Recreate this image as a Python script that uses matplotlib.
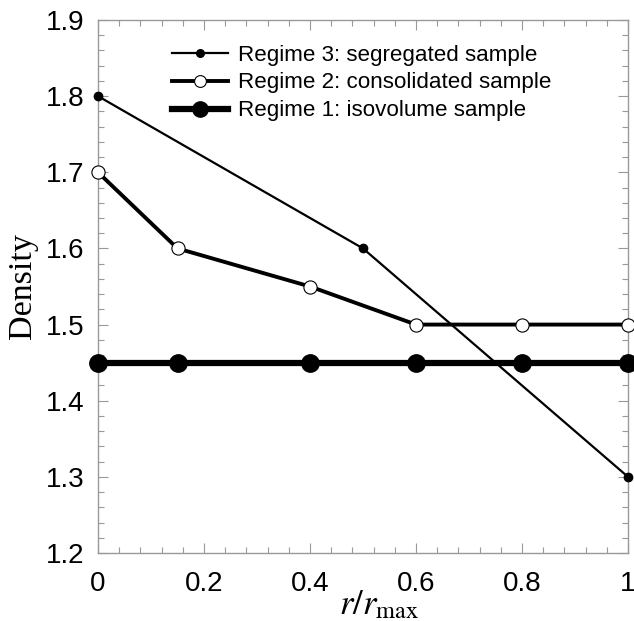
import matplotlib
matplotlib.use("Agg")
import matplotlib.pyplot as plt
from matplotlib.ticker import MultipleLocator

# Density profiles along the normalised radius
r3 = [0.0, 0.5, 1.0]
rho3 = [1.80, 1.60, 1.30]

r2 = [0.0, 0.15, 0.4, 0.6, 0.8, 1.0]
rho2 = [1.70, 1.60, 1.55, 1.50, 1.50, 1.50]

r1 = [0.0, 0.15, 0.4, 0.6, 0.8, 1.0]
rho1 = [1.45, 1.45, 1.45, 1.45, 1.45, 1.45]

labels = ["Regime 3: segregated sample",
          "Regime 2: consolidated sample",
          "Regime 1: isovolume sample"]

xticks = [0, 0.2, 0.4, 0.6, 0.8, 1.0]
xticklabels = ["0", "0.2", "0.4", "0.6", "0.8", "1"]
yticks = [1.2, 1.3, 1.4, 1.5, 1.6, 1.7, 1.8, 1.9]
yticklabels = ["1.2", "1.3", "1.4", "1.5", "1.6", "1.7", "1.8", "1.9"]

plt.rcParams['font.family'] = ['Liberation Sans', 'DejaVu Sans']
plt.rcParams['mathtext.fontset'] = 'stix'

fig = plt.figure(figsize=(6.34, 6.21), dpi=100)
ax = fig.add_axes([98 / 634, 1 - 553 / 621, 530 / 634, 533 / 621])

ax.plot(r3, rho3, color='black', lw=1.6, marker='o', ms=6,
        mfc='black', mec='black', clip_on=False, zorder=5, label=labels[0])
ax.plot(r2, rho2, color='black', lw=2.8, marker='o', ms=9.5,
        mfc='white', mec='black', mew=0.8, clip_on=False, zorder=4, label=labels[1])
ax.plot(r1, rho1, color='black', lw=4.5, marker='o', ms=12.5,
        mfc='black', mec='black', clip_on=False, zorder=3, label=labels[2])

ax.set_xlim(0, 1)
ax.set_ylim(1.2, 1.9)
ax.xaxis.set_minor_locator(MultipleLocator(0.04))
ax.yaxis.set_minor_locator(MultipleLocator(0.02))
ax.set_xticks(xticks)
ax.set_xticklabels(xticklabels)
ax.set_yticks(yticks)
ax.set_yticklabels(yticklabels)

for s in ax.spines.values():
    s.set_color('#999999')
    s.set_linewidth(1.0)
ax.tick_params(which='both', direction='in', top=True, right=True,
               color='#999999', width=0.8)
ax.tick_params(which='major', length=7, labelsize=20)
ax.tick_params(axis='x', which='major', pad=13)
ax.tick_params(axis='y', which='major', pad=10)
ax.tick_params(which='minor', length=4)

ax.set_ylabel("Density", family=['Liberation Serif'], fontsize=24.5)
ax.yaxis.set_label_coords(-0.113, 0.5)
ax.set_xlabel(r"$r/r_{\mathrm{max}}$", fontsize=25)
ax.xaxis.set_label_coords(0.53, -0.066)

leg = ax.legend(loc='upper left', bbox_to_anchor=(0.14, 0.954), frameon=False,
                fontsize=16.1, handlelength=2.5, handletextpad=0.45,
                labelspacing=0.31, borderaxespad=0, borderpad=0)
leg_ms = [5.5, 8.5, 11]
for h, m in zip(leg.legend_handles, leg_ms):
    h.set_markersize(m)

fig.savefig("out.png", dpi=100)
